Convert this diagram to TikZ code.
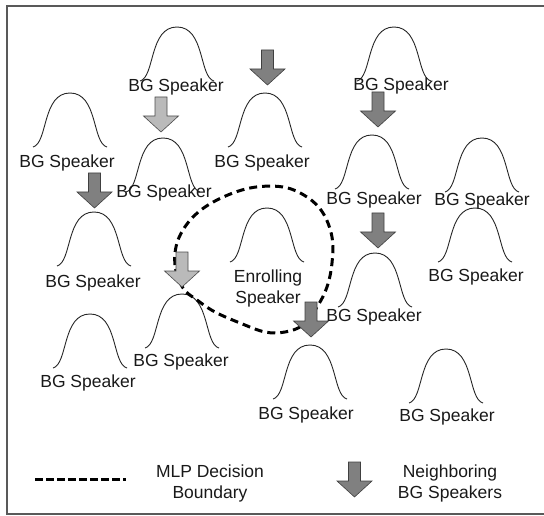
\documentclass[tikz,border=0pt]{standalone}
\usepackage{fontspec}
\setmainfont{Liberation Sans}
\begin{document}
\begin{tikzpicture}[x=1pt,y=-1pt,
  lbl/.style={font=\fontsize{17.5}{20}\selectfont, inner sep=0pt, text=black!90},
  bellline/.style={line width=0.9pt, black!85},
  boundary/.style={line width=3pt, dash pattern=on 8pt off 5pt, line cap=butt},
  frameline/.style={line width=1.3pt, black!65},
  darkarrow/.style={fill=black!50, draw=black!75, line width=0.6pt},
  lightarrow/.style={fill=black!27, draw=black!70, line width=0.6pt},
  bell/.pic={\draw[bellline] (-37,0) .. controls (-22,-4) and (-28,-54) .. (0,-54)
                            .. controls (28,-54) and (22,-4) .. (37,0);},
  darkdown/.pic={\path[darkarrow] (-6,0) -- (6,0) -- (6,19) -- (17.5,19) -- (0,35)
                                  -- (-17.5,19) -- (-6,19) -- cycle;},
  lightdown/.pic={\path[lightarrow] (-6,0) -- (6,0) -- (6,19) -- (17.5,19) -- (0,35)
                                  -- (-17.5,19) -- (-6,19) -- cycle;}
]
\useasboundingbox (0,0) rectangle (544,516);

% frame (right side lies outside the picture)
\coordinate (tr) at (544,6);
\coordinate (tl) at (7,6);
\coordinate (bl) at (7,514);
\coordinate (br) at (544,514);
\draw[frameline] (tr) -- (tl) -- (bl) -- (br);

% bells (placed at base centre)
\pic (bA) at (177,81) {bell};
\pic (bB) at (70,147) {bell};
\pic (bC) at (163,192) {bell};
\pic (bD) at (94,266) {bell};
\pic (bE) at (265,147) {bell};
\pic (bF) at (394,81) {bell};
\pic (bG) at (372,189) {bell};
\pic (bH) at (482,192) {bell};
\pic (bI) at (375,307) {bell};
\pic (bJ) at (475,262) {bell};
\pic (bEn) at (267,262) {bell};
\pic (bK) at (310,399) {bell};
\pic (bL) at (446,403) {bell};
\pic (bM) at (182,348) {bell};
\pic (bN) at (90,368) {bell};

% decision boundary
\draw[boundary] plot[smooth cycle, tension=0.6] coordinates {
  (183,288) (175,265) (178,240) (193,217) (217,200) (250,188) (283,187)
  (307,197) (323,213) (332,237) (332,263) (327,287) (317,307) (303,325)
  (285,332) (265,332) (240,323) (215,312) (197,300)};

% neighbouring arrows
\pic (a1) at (267.5,50) {darkdown};
\pic (a2) at (161,97) {lightdown};
\pic (a3) at (94.5,173) {darkdown};
\pic (a4) at (378,92) {darkdown};
\pic (a5) at (378,213) {darkdown};
\pic (a6) at (182,252) {lightdown};
\pic (a7) at (311,302) {darkdown};

% labels
\node[lbl] (lA) at (176,87) {BG Speaker};
\node[lbl] (lB) at (67,163) {BG Speaker};
\node[lbl] (lC) at (164,193) {BG Speaker};
\node[lbl] (lE) at (262,163) {BG Speaker};
\node[lbl] (lF) at (401,86) {BG Speaker};
\node[lbl] (lG) at (374,200) {BG Speaker};
\node[lbl] (lH) at (482,201) {BG Speaker};
\node[lbl] (lI) at (374,317) {BG Speaker};
\node[lbl] (lJ) at (476,277) {BG Speaker};
\node[lbl] (lD) at (93,283) {BG Speaker};
\node[lbl] (lM) at (181,362) {BG Speaker};
\node[lbl] (lN) at (88,383) {BG Speaker};
\node[lbl] (lK) at (306,415) {BG Speaker};
\node[lbl] (lL) at (447,417) {BG Speaker};
\node[lbl, align=center] (lEn) at (268,288) {Enrolling\\[1pt]Speaker};

% legend
\coordinate (legS) at (35,479);
\coordinate (legE) at (126,479);
\draw[boundary, dash pattern=on 8pt off 3pt] (legS) -- (legE);
\node[lbl, align=center] (legB) at (210,483) {MLP Decision\\[1pt]Boundary};
\pic (legA) at (354.5,462) {darkdown};
\node[lbl, align=center] (legN) at (450,483) {Neighboring\\[1pt]BG Speakers};
\end{tikzpicture}
\end{document}
